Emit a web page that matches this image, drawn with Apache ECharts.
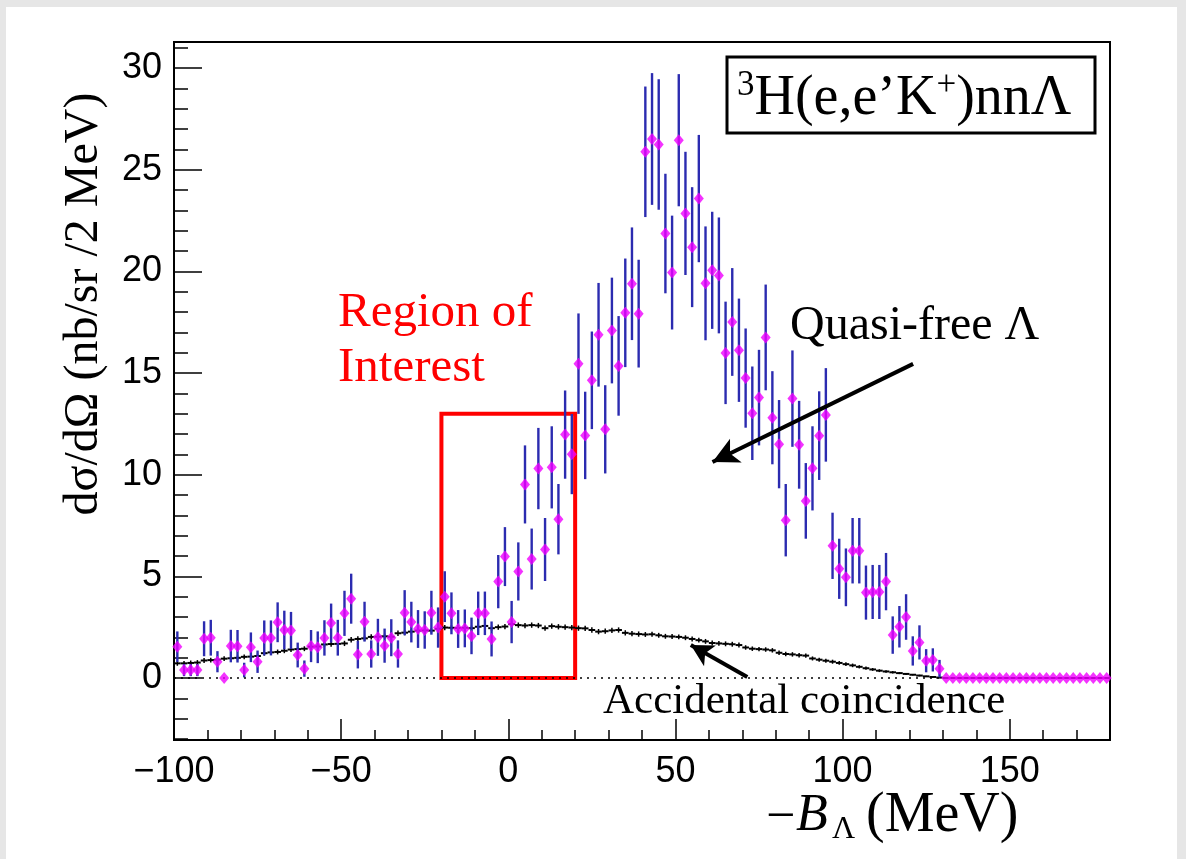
<!DOCTYPE html>
<html><head><meta charset="utf-8">
<script src="https://cdn.jsdelivr.net/npm/echarts@6/dist/echarts.min.js"></script>
<style>
html,body{margin:0;padding:0;background:#e6e6e6;width:1186px;height:859px;overflow:hidden;}
#panel{position:absolute;left:6px;top:7px;width:1171px;height:852px;background:#fff;}
#chart{position:absolute;left:0;top:0;width:1186px;height:859px;}
</style></head><body>
<div id="panel"></div>
<div id="chart"></div>
<script>
// ---- data (2 MeV bins) ----
const binWidth = 2;
const binCenters = [
 -99,-97,-95,-93,-91,-89,-87,-85,-83,-81,
 -79,-77,-75,-73,-71,-69,-67,-65,-63,-61,
 -59,-57,-55,-53,-51,-49,-47,-45,-43,-41,
 -39,-37,-35,-33,-31,-29,-27,-25,-23,-21,
 -19,-17,-15,-13,-11,-9,-7,-5,-3,-1,
 1,3,5,7,9,11,13,15,17,19,
 21,23,25,27,29,31,33,35,37,39,
 41,43,45,47,49,51,53,55,57,59,
 61,63,65,67,69,71,73,75,77,79,
 81,83,85,87,89,91,93,95,97,99,
 101,103,105,107,109,111,113,115,117,119,
 121,123,125,127,129,131,133,135,137,139,
 141,143,145,147,149,151,153,155,157,159,
 161,163,165,167,169,171,173,175,177,179];
const crossSection = [
 1.54,0.39,0.39,0.39,1.93,1.98,0.80,0.00,1.57,1.56,
 0.39,1.51,0.80,1.97,1.97,2.74,2.36,2.34,1.13,0.46,
 1.57,1.51,1.97,2.70,1.98,3.18,3.90,1.15,2.77,1.18,
 2.00,1.59,1.98,1.18,3.21,2.75,2.41,2.36,3.21,2.48,
 4.00,3.18,2.41,2.44,2.07,3.18,3.18,1.92,4.74,5.97,
 2.75,5.24,9.52,5.85,10.30,6.32,10.36,7.81,11.97,11.01,
 15.46,11.93,14.64,16.88,12.23,17.09,15.35,17.96,19.39,17.92,
 25.88,26.51,26.24,21.86,19.94,26.45,22.85,21.19,23.58,19.41,
 20.05,19.80,15.99,17.51,16.12,14.75,13.02,13.79,16.75,12.80,
 11.50,7.76,13.74,11.47,8.71,10.31,11.92,12.94,6.50,5.37,
 4.95,6.26,6.26,4.20,4.23,4.23,4.74,2.11,2.52,3.00,
 1.33,1.75,0.85,0.89,0.46,0,0,0,0,0,
 0,0,0,0,0,0,0,0,0,0,
 0,0,0,0,0,0,0,0,0,0];
const crossSectionErr = [
 0.75,0.30,0.30,0.30,0.86,0.88,0.52,0,0.80,0.80,
 0.36,0.73,0.55,0.86,0.86,0.98,0.95,0.91,0.61,0.40,
 0.79,0.78,0.87,0.96,0.88,1.11,1.23,0.68,0.98,0.67,
 0.91,0.84,0.91,0.67,1.11,1.00,0.93,0.92,1.08,0.99,
 1.25,1.03,0.93,0.93,0.90,1.07,1.07,0.86,1.31,1.45,
 1.04,1.43,1.92,1.50,2.00,1.55,2.02,1.73,2.17,1.97,
 2.47,2.15,2.40,2.55,2.17,2.60,2.45,2.67,2.77,2.65,
 3.21,3.24,3.21,2.94,2.80,3.25,3.03,2.95,3.13,2.80,
 2.88,2.85,2.52,2.65,2.54,2.44,2.30,2.35,2.60,2.29,
 2.17,1.78,2.37,2.16,1.86,2.07,2.18,2.30,1.63,1.48,
 1.42,1.61,1.61,1.33,1.33,1.33,1.41,0.92,1.02,1.12,
 0.72,0.84,0.57,0.57,0.43,0,0,0,0,0,
 0,0,0,0,0,0,0,0,0,0,
 0,0,0,0,0,0,0,0,0,0];
const accidental = [
 0.72,0.72,0.74,0.76,0.86,0.88,0.90,0.95,0.97,0.99,
 1.04,1.05,1.08,1.22,1.26,1.28,1.34,1.40,1.42,1.44,
 1.54,1.55,1.65,1.67,1.68,1.70,1.88,1.92,1.95,2.02,
 2.03,2.05,2.03,2.20,2.23,2.28,2.33,2.34,2.33,2.42,
 2.48,2.47,2.46,2.47,2.45,2.52,2.56,2.45,2.50,2.53,
 2.65,2.60,2.58,2.60,2.58,2.45,2.55,2.52,2.50,2.48,
 2.45,2.44,2.36,2.28,2.30,2.34,2.36,2.22,2.18,2.16,
 2.14,2.15,2.10,2.05,2.04,2.02,1.98,1.92,1.86,1.80,
 1.72,1.70,1.68,1.66,1.62,1.50,1.44,1.42,1.40,1.36,
 1.24,1.18,1.16,1.12,1.10,0.96,0.90,0.85,0.80,0.74,
 0.68,0.62,0.55,0.48,0.42,0.36,0.32,0.28,0.24,0.20,
 0.16,0.12,0.08,0.05,0.02,0,0,0,0,0,
 0,0,0,0,0,0,0,0,0,0,
 0,0,0,0,0,0,0,0,0,0];
const accidentalErr = [
 0.12,0.12,0.12,0.12,0.12,0.12,0.12,0.12,0.12,0.12,
 0.12,0.12,0.12,0.12,0.12,0.12,0.12,0.12,0.12,0.12,
 0.13,0.13,0.13,0.13,0.13,0.13,0.13,0.13,0.13,0.13,
 0.13,0.13,0.13,0.13,0.13,0.13,0.13,0.13,0.13,0.13,
 0.13,0.13,0.13,0.13,0.13,0.13,0.13,0.13,0.13,0.13,
 0.13,0.13,0.13,0.13,0.13,0.13,0.13,0.13,0.13,0.13,
 0.13,0.13,0.13,0.13,0.13,0.13,0.13,0.13,0.13,0.13,
 0.12,0.12,0.12,0.12,0.12,0.12,0.12,0.12,0.12,0.12,
 0.12,0.12,0.12,0.12,0.12,0.11,0.11,0.11,0.11,0.11,
 0.11,0.11,0.11,0.11,0.11,0.10,0.10,0.10,0.10,0.09,
 0.09,0.09,0.08,0.08,0.07,0.07,0.06,0.06,0.05,0.05,
 0.04,0.04,0.03,0.02,0.02,0,0,0,0,0,
 0,0,0,0,0,0,0,0,0,0,
 0,0,0,0,0,0,0,0,0,0];
// ---- axes ----
const xRange = [-100, 180];
const yRange = [-3.05, 31.28];
const xMajorTicks = [-100,-50,0,50,100,150];
const xMinorTicks = [-90,-80,-70,-60,-40,-30,-20,-10,10,20,30,40,60,70,80,90,110,120,130,140,160,170];
const yMajorTicks = [0,5,10,15,20,25,30];
const yMinorTicks = [-3,-2,-1,1,2,3,4,6,7,8,9,11,12,13,14,16,17,18,19,21,22,23,24,26,27,28,29,31];
// ---- annotations (data coordinates) ----
const roiBox = [[-20, 0], [20, 13]];
const quasiArrow = [[121.1, 15.45], [61.1, 10.62]];
const accArrow = [[71.5, 0.05], [54.6, 1.62]];

const SERIF = "'Liberation Serif','DejaVu Serif','Times New Roman',serif";
const SANS = "'Liberation Sans',Arial,Helvetica,sans-serif";
const fmt = v => v < 0 ? '\u2212' + Math.abs(v) : String(v);

const chart = echarts.init(document.getElementById('chart'), null, {renderer: 'canvas'});
const pts = binCenters.map((x, i) => [x, crossSection[i], crossSectionErr[i]]);
const acc = binCenters.map((x, i) => [x, accidental[i], accidentalErr[i]]);

const xCommon = {type:'value', min:xRange[0], max:xRange[1], splitLine:{show:false}, position:'bottom'};
const yCommon = {type:'value', min:yRange[0], max:yRange[1], splitLine:{show:false}, position:'left'};

chart.setOption({
  animation:false,
  backgroundColor:'transparent',
  grid:{left:174, top:42, right:76, bottom:119, show:true, borderColor:'#000', borderWidth:2, backgroundColor:'transparent'},
  xAxis:[
    Object.assign({}, xCommon, {
      axisLine:{show:true, onZero:false, lineStyle:{color:'#000', width:2}},
      axisTick:{show:true, inside:true, length:21, customValues:xMajorTicks, lineStyle:{color:'#000', width:1.5}},
      axisLabel:{show:true, customValues:xMajorTicks, formatter:fmt, margin:14, fontFamily:SANS, fontSize:36, color:'#000'}
    }),
    Object.assign({}, xCommon, {
      axisLine:{show:false, onZero:false},
      axisTick:{show:true, inside:true, length:10, customValues:xMinorTicks, lineStyle:{color:'#000', width:1.5}},
      axisLabel:{show:false}
    })
  ],
  yAxis:[
    Object.assign({}, yCommon, {
      axisLine:{show:true, onZero:false, lineStyle:{color:'#000', width:2}},
      axisTick:{show:true, inside:true, length:28, customValues:yMajorTicks, lineStyle:{color:'#000', width:1.5}},
      axisLabel:{show:true, customValues:yMajorTicks, formatter:fmt, margin:12, fontFamily:SANS, fontSize:36, color:'#000'}
    }),
    Object.assign({}, yCommon, {
      axisLine:{show:false, onZero:false},
      axisTick:{show:true, inside:true, length:14, customValues:yMinorTicks, lineStyle:{color:'#000', width:1.5}},
      axisLabel:{show:false}
    })
  ],
  series:[
    {
      type:'custom', name:'accidental', xAxisIndex:0, yAxisIndex:0, clip:true, z:3,
      data:acc,
      renderItem:(params, api) => {
        const x = api.value(0), a = api.value(1), e = api.value(2);
        const l = api.coord([x - binWidth/2, a]), r = api.coord([x + binWidth/2, a]);
        const ch = [{type:'line', shape:{x1:l[0], y1:l[1], x2:r[0], y2:r[1]}, style:{stroke:'#000', lineWidth:2}}];
        if (e > 0) {
          const b = api.coord([x, a - e]), t = api.coord([x, a + e]);
          ch.push({type:'line', shape:{x1:b[0], y1:b[1], x2:t[0], y2:t[1]}, style:{stroke:'#000', lineWidth:1.5}});
        }
        return {type:'group', children:ch};
      },
      markLine:{
        silent:true, animation:false, label:{show:false}, symbol:['none','none'],
        data:[
          {yAxis:0, lineStyle:{color:'#000', type:[2,5], width:1.5}},
          [{coord:quasiArrow[0], symbol:'none', lineStyle:{color:'#000', width:4, type:'solid'}},
           {coord:quasiArrow[1], symbol:'arrow', symbolSize:[20,26]}],
          [{coord:accArrow[0], symbol:'none', lineStyle:{color:'#000', width:4, type:'solid'}},
           {coord:accArrow[1], symbol:'arrow', symbolSize:[18,22]}]
        ]
      }
    },
    {
      type:'custom', name:'errors', xAxisIndex:0, yAxisIndex:0, clip:true, z:4,
      data:pts,
      renderItem:(params, api) => {
        const x = api.value(0), v = api.value(1), e = api.value(2);
        if (!(e > 0)) return {type:'group', children:[]};
        const b = api.coord([x, v - e]), t = api.coord([x, v + e]);
        return {type:'line', shape:{x1:b[0], y1:b[1], x2:t[0], y2:t[1]}, style:{stroke:'#2b2bb0', lineWidth:2.4}};
      }
    },
    {
      type:'scatter', name:'data', xAxisIndex:0, yAxisIndex:0, z:5,
      data:pts.map(p => [p[0], p[1]]),
      symbol:'diamond', symbolSize:[10,12],
      itemStyle:{color:'#f000ff'},
      markArea:{
        silent:true,
        itemStyle:{color:'rgba(0,0,0,0)', borderColor:'#ff0000', borderWidth:4},
        label:{show:false},
        data:[[{coord:roiBox[0]}, {coord:roiBox[1]}]]
      }
    }
  ],
  graphic:[
    {type:'text', x:84, y:304, rotation:Math.PI/2, z:10,
     style:{text:'d\u03c3/d\u03a9 (nb/sr /2 MeV)', font:'48px ' + SERIF, fill:'#000', align:'center', verticalAlign:'middle'}},
    {type:'text', x:766, y:818, z:10,
     style:{text:'\u2212', font:'52px ' + SERIF, fill:'#000', align:'left', verticalAlign:'middle'}},
    {type:'text', x:796, y:816, z:10,
     style:{text:'B', font:'italic 52px ' + SERIF, fill:'#000', align:'left', verticalAlign:'middle'}},
    {type:'text', x:832, y:830, z:10,
     style:{text:'\u039b', font:'32px ' + SERIF, fill:'#000', align:'left', verticalAlign:'middle'}},
    {type:'text', x:866, y:816, z:10,
     style:{text:'(MeV)', font:'56px ' + SERIF, fill:'#000', align:'left', verticalAlign:'middle'}},
    {type:'rect', shape:{x:727, y:57, width:368, height:76}, z:10,
     style:{fill:'#fff', stroke:'#000', lineWidth:3}},
    {type:'text', x:737, y:99, z:11,
     style:{text:'{sup|3}{n|H(e,e\u2019K}{sup|+}{n|)nn\u039b}', fill:'#000', align:'left', verticalAlign:'middle',
       rich:{ n:{fontFamily:SERIF, fontSize:56, fill:'#000'}, sup:{fontFamily:SERIF, fontSize:35, fill:'#000', padding:[0,0,26,0]} }}},
    {type:'text', x:338, y:313, z:10,
     style:{text:'Region of', font:'49px ' + SERIF, fill:'#ff0000', align:'left', verticalAlign:'middle'}},
    {type:'text', x:338, y:368, z:10,
     style:{text:'Interest', font:'49px ' + SERIF, fill:'#ff0000', align:'left', verticalAlign:'middle'}},
    {type:'text', x:790, y:326, z:10,
     style:{text:'Quasi-free \u039b', font:'48px ' + SERIF, fill:'#000', align:'left', verticalAlign:'middle'}},
    {type:'text', x:603, y:702, z:10,
     style:{text:'Accidental coincidence', font:'43px ' + SERIF, fill:'#000', align:'left', verticalAlign:'middle'}}
  ]
});
</script>
</body></html>
